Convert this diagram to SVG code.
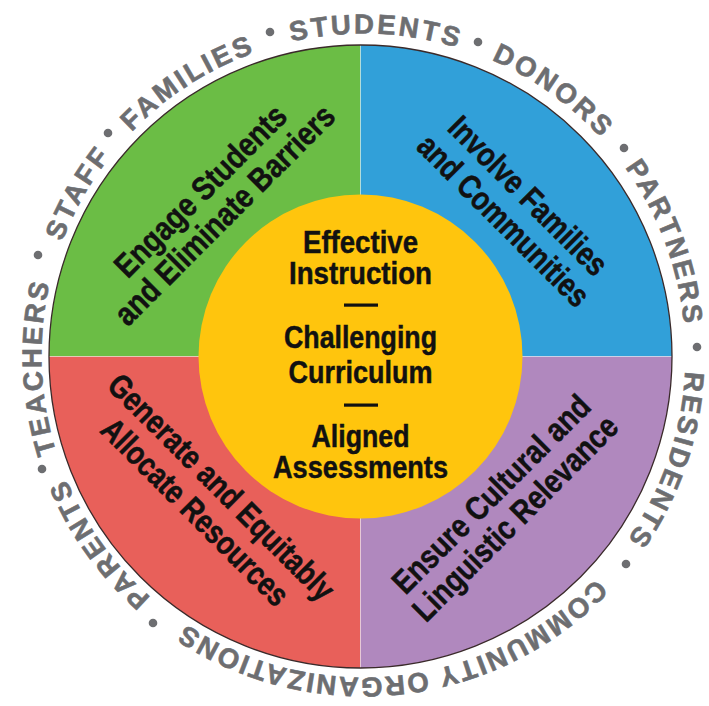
<svg xmlns="http://www.w3.org/2000/svg" width="709" height="706" viewBox="0 0 709 706">
<style>
.q{font-family:"Liberation Sans Narrow","Liberation Sans",Arial,sans-serif;font-weight:bold;font-size:33px;fill:#111;stroke:#111;stroke-width:0.5px;text-anchor:middle}
.c{font-family:"Liberation Sans Narrow","Liberation Sans",Arial,sans-serif;font-weight:bold;font-size:32px;fill:#111;stroke:#111;stroke-width:0.5px;text-anchor:middle}
.ring{font-family:"Liberation Sans",Arial,sans-serif;font-weight:bold;font-size:27.5px;fill:#6d6e71;stroke:#6d6e71;stroke-width:0.6px;letter-spacing:2.8px;text-anchor:middle}
.dot{fill:#6d6e71}
</style>
<defs>
<path id="ringPath" d="M 363.5 33.5 A 322 322 0 1 1 363.5 677.5 A 322 322 0 1 1 363.5 33.5 A 322 322 0 1 1 363.5 677.5 A 322 322 0 1 1 363.5 33.5"/>
</defs>
<rect width="709" height="706" fill="#ffffff"/>
<g id="quadrant-green">
<path d="M360.5,356.5 L49,356.5 A311.5,311.5 0 0 1 360.5,45 Z" fill="#6bbd45"/>
<g transform="translate(360.5,356.5) rotate(-45)">
<text class="q" x="4" y="-219" textLength="228" lengthAdjust="spacingAndGlyphs">Engage Students</text>
<text class="q" x="4" y="-185" textLength="296" lengthAdjust="spacingAndGlyphs">and Eliminate Barriers</text>
</g>
</g>
<g id="quadrant-blue">
<path d="M360.5,356.5 L360.5,45 A311.5,311.5 0 0 1 672,356.5 Z" fill="#31a0d9"/>
<g transform="translate(360.5,356.5) rotate(45)">
<text class="q" x="5" y="-221" textLength="210" lengthAdjust="spacingAndGlyphs">Involve Families</text>
<text class="q" x="5" y="-186" textLength="228" lengthAdjust="spacingAndGlyphs">and Communities</text>
</g>
</g>
<g id="quadrant-red">
<path d="M360.5,356.5 L360.5,668 A311.5,311.5 0 0 1 49,356.5 Z" fill="#e8605a"/>
<g transform="translate(360.5,356.5) rotate(45)">
<text class="q" x="-6" y="202" textLength="305" lengthAdjust="spacingAndGlyphs">Generate and Equitably</text>
<text class="q" x="-7" y="238" textLength="250" lengthAdjust="spacingAndGlyphs">Allocate Resources</text>
</g>
</g>
<g id="quadrant-purple">
<path d="M360.5,356.5 L672,356.5 A311.5,311.5 0 0 1 360.5,668 Z" fill="#b088be"/>
<g transform="translate(360.5,356.5) rotate(-45)">
<text class="q" x="-5" y="201" textLength="265" lengthAdjust="spacingAndGlyphs">Ensure Cultural and</text>
<text class="q" x="-5" y="235" textLength="275" lengthAdjust="spacingAndGlyphs">Linguistic Relevance</text>
</g>
</g>
<g id="dividers" stroke="#ffffff" stroke-opacity="0.45" stroke-width="1">
<line x1="360.5" y1="45" x2="360.5" y2="668"/>
<line x1="49" y1="356.5" x2="672" y2="356.5"/>
</g>
<circle id="outline" cx="360.5" cy="356.5" r="311.5" fill="none" stroke="#3a2a2a" stroke-width="1.3"/>
<g id="center">
<circle cx="360.5" cy="356.5" r="162" fill="#ffc50d"/>
<text class="c" x="360.5" y="252.5" textLength="115" lengthAdjust="spacingAndGlyphs">Effective</text>
<text class="c" x="360.5" y="284" textLength="143" lengthAdjust="spacingAndGlyphs">Instruction</text>
<rect x="344" y="303.5" width="34" height="3.2" fill="#111"/>
<text class="c" x="360.5" y="348" textLength="153" lengthAdjust="spacingAndGlyphs">Challenging</text>
<text class="c" x="360.5" y="383" textLength="144" lengthAdjust="spacingAndGlyphs">Curriculum</text>
<rect x="344" y="403.5" width="34" height="3.2" fill="#111"/>
<text class="c" x="360.5" y="446.5" textLength="98" lengthAdjust="spacingAndGlyphs">Aligned</text>
<text class="c" x="360.5" y="478" textLength="175" lengthAdjust="spacingAndGlyphs">Assessments</text>
</g>
<g id="ring">
<text class="ring"><textPath href="#ringPath" startOffset="2034.9">STUDENTS</textPath></text>
<text class="ring"><textPath href="#ringPath" startOffset="200.4">DONORS</textPath></text>
<text class="ring"><textPath href="#ringPath" startOffset="390.6">PARTNERS</textPath></text>
<text class="ring"><textPath href="#ringPath" startOffset="612.6">RESIDENTS</textPath></text>
<text class="ring" style="letter-spacing:1.9px"><textPath href="#ringPath" startOffset="976.2">COMMUNITY ORGANIZATIONS</textPath></text>
<text class="ring"><textPath href="#ringPath" startOffset="1317.9">PARENTS</textPath></text>
<text class="ring"><textPath href="#ringPath" startOffset="1505">TEACHERS</textPath></text>
<text class="ring"><textPath href="#ringPath" startOffset="1683.2">STAFF</textPath></text>
<text class="ring"><textPath href="#ringPath" startOffset="1838.3">FAMILIES</textPath></text>
<circle class="dot" cx="270" cy="32" r="4.3"/>
<circle class="dot" cx="478" cy="42" r="4.3"/>
<circle class="dot" cx="624" cy="148" r="4.3"/>
<circle class="dot" cx="697" cy="347" r="4.3"/>
<circle class="dot" cx="626" cy="564" r="4.3"/>
<circle class="dot" cx="153" cy="623" r="4.3"/>
<circle class="dot" cx="42" cy="469" r="4.3"/>
<circle class="dot" cx="38" cy="255" r="4.3"/>
<circle class="dot" cx="108" cy="133" r="4.3"/>
</g>
</svg>
